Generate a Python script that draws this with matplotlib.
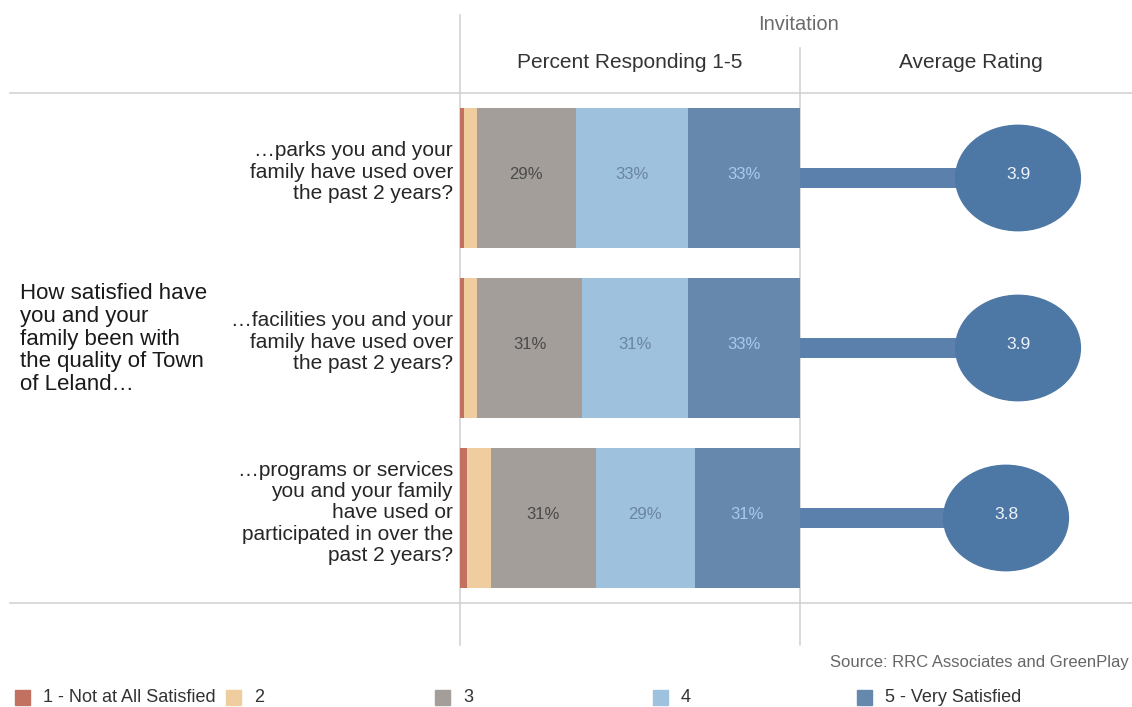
import matplotlib.pyplot as plt
from matplotlib.lines import Line2D
from matplotlib.patches import Ellipse, Rectangle

plt.rcParams["font.family"] = ["Liberation Sans", "DejaVu Sans"]

# Survey data
questions = [
    "\u2026parks you and your\nfamily have used over\nthe past 2 years?",
    "\u2026facilities you and your\nfamily have used over\nthe past 2 years?",
    "\u2026programs or services\nyou and your family\nhave used or\nparticipated in over the\npast 2 years?",
]
levels = ["1 - Not at All Satisfied", "2", "3", "4", "5 - Very Satisfied"]
pct_1 = [1.3, 1.2, 2.2]
pct_2 = [3.7, 3.8, 6.8]
pct_3 = [29, 31, 31]
pct_4 = [33, 31, 29]
pct_5 = [33, 33, 31]
avg_rating = [3.9, 3.9, 3.8]

colors = ["#C27160", "#EFCD9E", "#A39E9A", "#9EC1DD", "#6688AC"]
label_colors = [None, None, "#4a4a4a", "#6a84a6", "#a9c9ec"]
dot_color = "#4D78A5"
stem_color = "#5B80AB"
rule_color = "#cfcfcf"

W, H = 1132, 707


def fx(x):
    return x / W


def fy(y):
    return 1 - y / H


fig = plt.figure(figsize=(W / 100, H / 100), dpi=100)

# Stacked percent bars
ax = fig.add_axes([fx(460), fy(603), fx(340), 510 / H])
series = [pct_1, pct_2, pct_3, pct_4, pct_5]
left = [0.0] * len(questions)
for i, vals in enumerate(series):
    ax.barh(range(len(questions)), vals, left=left, height=0.82,
            color=colors[i], edgecolor="none")
    if label_colors[i]:
        for j, v in enumerate(vals):
            ax.text(left[j] + v / 2, j - 0.02, f"{v:.0f}%", ha="center",
                    va="center", fontsize=12, color=label_colors[i])
    left = [a + b for a, b in zip(left, vals)]
ax.set_xlim(0, 100)
ax.set_ylim(2.5, -0.5)
ax.axis("off")

# Average rating lollipops
rmin, rmax = 2.083, 4.85
ax2 = fig.add_axes([fx(800), fy(603), fx(332), 510 / H])
ax2.barh(range(len(questions)), [r - rmin for r in avg_rating], left=rmin,
         height=0.123, color=stem_color, edgecolor="none")
for j, r in enumerate(avg_rating):
    ax2.add_patch(Ellipse((r, j), 1.04, 0.62, color=dot_color, zorder=3))
    ax2.text(r, j - 0.02, f"{r:.1f}", ha="center", va="center", fontsize=12.5,
             color="#eef3f8", zorder=4)
ax2.set_xlim(rmin, rmax)
ax2.set_ylim(2.5, -0.5)
ax2.axis("off")

# Table rules
rules = [
    ((460, 460), (15, 645)),
    ((800, 800), (48, 645)),
    ((10, W), (93, 93)),
    ((10, W), (603, 603)),
]
for xs, ys in rules:
    fig.add_artist(Line2D([fx(x) for x in xs], [fy(y) for y in ys],
                          color=rule_color, lw=1.1, zorder=0))

# Headers
fig.text(fx(799), fy(24), "Invitation", ha="center", va="center",
         fontsize=14.5, color="#6b6b6b")
fig.text(fx(630), fy(62), "Percent Responding 1-5", ha="center",
         va="center", fontsize=15, color="#333333")
fig.text(fx(971), fy(62), "Average Rating", ha="center", va="center",
         fontsize=15, color="#333333")

# Row labels
row_y = [172, 342, 513]
for q, y in zip(questions, row_y):
    fig.text(fx(453), fy(y), q, ha="right", va="center", fontsize=15,
             color="#262626", linespacing=1.14)
fig.text(fx(20), fy(339),
         "How satisfied have\nyou and your\nfamily been with\nthe quality of Town\nof Leland\u2026",
         ha="left", va="center", fontsize=16, color="#1a1a1a",
         linespacing=1.12)

fig.text(fx(1129), fy(663), "Source: RRC Associates and GreenPlay",
         ha="right", va="center", fontsize=12, color="#666666")

# Legend
legend_x = [15, 226, 435, 653, 857]
for x, lab, c in zip(legend_x, levels, colors):
    fig.add_artist(Rectangle((fx(x), fy(705)), fx(15), 15 / H,
                             color=c, transform=fig.transFigure))
    fig.text(fx(x + 28), fy(698), lab, ha="left", va="center",
             fontsize=13, color="#333333")

fig.savefig("out.png", dpi=100)
